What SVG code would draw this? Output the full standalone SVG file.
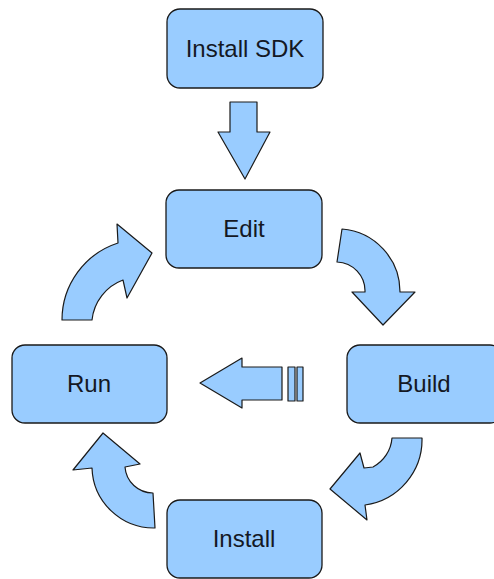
<svg xmlns="http://www.w3.org/2000/svg" width="494" height="579" viewBox="0 0 494 579">
<style>
.box{fill:#99ccff;stroke:#1a1a1a;stroke-width:1.3}
.arr{fill:#99ccff;stroke:#1a1a1a;stroke-width:1.2;stroke-linejoin:round}
.lbl{font-family:"Liberation Sans",Arial,sans-serif;font-size:24px;fill:#141824;text-anchor:middle}
</style>
<rect width="494" height="579" fill="#ffffff"/>
<g id="connectors">
<path class="arr" d="M230 102 L257 102 L257 132 L270 132 L245 179 L218 132 L230 132 Z"/>
<path class="arr" d="M342 229 A63 63 0 0 1 400 292 L415 292 L383 325 L352 292 L365 292 A29 29 0 0 0 337 262 Z"/>
<path class="arr" d="M422 438 A66 66 0 0 1 365 505 L367 520 L330 489 L360 453 L364 468 L373 467 A36 36 0 0 0 392 438 Z"/>
<path class="arr" d="M282 367 L242 367 L242 358 L200 383 L242 408 L242 400 L282 400 Z"/>
<rect class="arr" x="288" y="367" width="7" height="34"/>
<rect class="arr" x="297" y="367" width="6" height="34"/>
<path class="arr" d="M155 528 A62 62 0 0 1 92 468 L73 470 L103 433 L140 464 L125 467 A28 28 0 0 0 153 493 Z"/>
<path class="arr" d="M62 320 A81 81 0 0 1 118 243 L117 224 L152 253 L127 298 L123 280 A48 48 0 0 0 92 320 Z"/>
</g>
<g id="install-sdk">
<rect class="box" x="167" y="9" width="156" height="79" rx="13"/>
<text class="lbl" x="245" y="57">Install SDK</text>
</g>
<g id="edit">
<rect class="box" x="166" y="190" width="156" height="78" rx="13"/>
<text class="lbl" x="244" y="237">Edit</text>
</g>
<g id="build">
<rect class="box" x="347" y="345" width="156" height="78" rx="13"/>
<text class="lbl" x="424" y="392">Build</text>
</g>
<g id="run">
<rect class="box" x="12" y="345" width="155" height="78" rx="13"/>
<text class="lbl" x="89" y="392">Run</text>
</g>
<g id="install">
<rect class="box" x="167" y="500" width="155" height="78" rx="13"/>
<text class="lbl" x="244" y="547">Install</text>
</g>
</svg>
